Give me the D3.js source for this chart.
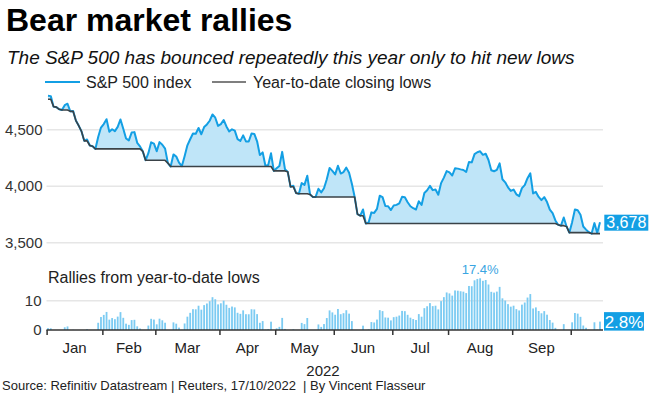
<!DOCTYPE html>
<html>
<head>
<meta charset="utf-8">
<script src="https://cdn.jsdelivr.net/npm/d3@7"></script>
<style>
  body { margin: 0; background: #fff; }
  svg { display: block; font-family: "Liberation Sans", Arial, sans-serif; }
</style>
</head>
<body>
<svg width="653" height="396"></svg>
<script>
// S&P 500 daily closes, 2022, by month
const jan = [4796.56, 4793.54, 4700.58, 4696.05, 4677.03, 4670.29, 4713.07, 4726.35, 4659.03, 4662.85,
  4577.11, 4532.76, 4482.73, 4397.94, 4410.13, 4356.45, 4349.93, 4326.51, 4431.85, 4515.55];
const feb = [4546.54, 4589.38, 4477.44, 4500.53, 4483.87, 4521.54, 4587.18, 4504.08, 4418.64, 4401.67,
  4471.07, 4475.01, 4380.26, 4348.87, 4304.76, 4225.50, 4288.70, 4384.65, 4373.94];
const mar = [4306.26, 4386.54, 4363.49, 4328.87, 4201.09, 4170.70, 4277.88, 4259.52, 4204.31, 4173.11,
  4262.45, 4357.86, 4411.67, 4463.12, 4461.18, 4511.61, 4456.24, 4520.16, 4543.06, 4575.52,
  4631.60, 4602.45, 4530.41];
const apr = [4545.86, 4582.64, 4525.12, 4481.15, 4500.21, 4488.28, 4412.53, 4397.45, 4446.59, 4392.59,
  4391.69, 4462.21, 4459.45, 4393.66, 4271.78, 4296.12, 4175.20, 4183.96, 4287.50, 4131.93];
const may = [4155.38, 4175.48, 4300.17, 4146.87, 4123.34, 3991.24, 4001.05, 3935.18, 3930.08, 4023.89,
  4008.01, 4088.85, 3923.68, 3900.79, 3901.36, 3973.75, 3941.48, 3978.73, 4057.84, 4158.24, 4132.15];
const jun = [4101.23, 4176.82, 4108.54, 4121.43, 4160.68, 4115.77, 4017.82, 3900.86, 3749.63, 3735.48,
  3789.99, 3666.77, 3674.84, 3764.79, 3759.89, 3795.73, 3911.74, 3900.11, 3821.55, 3818.83, 3785.38];
const jul = [3825.33, 3831.39, 3845.08, 3902.62, 3899.38, 3854.43, 3818.80, 3801.78, 3790.38, 3863.16,
  3830.85, 3936.69, 3959.90, 3998.95, 3961.63, 3966.84, 3921.05, 4023.61, 4072.43, 4130.29];
const aug = [4118.63, 4091.19, 4155.17, 4151.94, 4145.19, 4140.06, 4122.47, 4210.24, 4207.27, 4280.15,
  4297.14, 4305.20, 4274.04, 4283.74, 4228.48, 4137.99, 4128.73, 4140.77, 4199.12, 4057.66,
  4030.61, 3986.16, 3955.00];
const sep = [3966.85, 3924.26, 3908.19, 3979.87, 4006.18, 4067.36, 4110.41, 3932.69, 3946.01, 3901.35,
  3873.33, 3899.89, 3855.93, 3789.93, 3757.99, 3693.23, 3655.04, 3647.29, 3719.04, 3640.47, 3585.62];
const oct = [3678.43, 3790.93, 3783.28, 3744.52, 3639.66, 3612.39, 3588.84, 3577.03, 3669.91, 3583.07,
  3677.95];
const priorLow = 4766.18; // last close of 2021
const monthLabels = ["Jan", "Feb", "Mar", "Apr", "May", "Jun", "Jul", "Aug", "Sep", ""];
const topTicks = [3500, 4000, 4500];
const bottomTicks = [0, 10];

const months = [jan, feb, mar, apr, may, jun, jul, aug, sep, oct];
const closes = months.flat();
const monthStart = [];
let acc = 0;
months.forEach(m => { monthStart.push(acc); acc += m.length; });

let low = priorLow;
const rows = closes.map((c, i) => {
  low = Math.min(low, c);
  return { i, close: c, low, rally: (c / low - 1) * 100 };
});

const blue = "#139fe4";
const svg = d3.select("svg");

const x = d3.scaleLinear().domain([0, closes.length - 1]).range([48, 600]);
const y = d3.scaleLinear().domain([3500, 4500]).range([242.3, 129.3]);
const yb = d3.scaleLinear().domain([0, 10]).range([330, 300.3]);
const left = 46.5, right = 603;

// titles
svg.append("text").attr("x", 6).attr("y", 31).attr("font-size", 32).attr("font-weight", "bold")
  .attr("fill", "#000").text("Bear market rallies");
svg.append("text").attr("x", 7).attr("y", 64).attr("font-size", 19).attr("font-style", "italic")
  .attr("fill", "#111").text("The S&P 500 has bounced repeatedly this year only to hit new lows");

// legend
svg.append("line").attr("x1", 45).attr("x2", 80).attr("y1", 82).attr("y2", 82)
  .attr("stroke", blue).attr("stroke-width", 2);
svg.append("text").attr("x", 86).attr("y", 88).attr("font-size", 16).attr("fill", "#222").text("S&P 500 index");
svg.append("line").attr("x1", 212).attr("x2", 246).attr("y1", 82).attr("y2", 82)
  .attr("stroke", "#555").attr("stroke-width", 1.5);
svg.append("text").attr("x", 253).attr("y", 88).attr("font-size", 16).attr("fill", "#222").text("Year-to-date closing lows");

// top grid + y labels
const gTop = svg.append("g").attr("transform", `translate(${left},0)`)
  .call(d3.axisLeft(y).tickValues(topTicks).tickSize(-(right - left)).tickPadding(4).tickFormat(d3.format(",")));
gTop.select(".domain").remove();
gTop.selectAll(".tick line").attr("stroke", "#e6e6e6").attr("stroke-width", 1.5);
gTop.selectAll(".tick text").attr("font-size", 15).attr("fill", "#333").attr("font-family", "Liberation Sans, Arial, sans-serif");

// fill between index and lows
svg.append("path").datum(rows)
  .attr("d", d3.area().x(d => x(d.i)).y0(d => y(d.low)).y1(d => y(d.close)))
  .attr("fill", "#bfe5f8");
svg.append("path").datum(rows)
  .attr("d", d3.line().x(d => x(d.i)).y(d => y(d.close)))
  .attr("fill", "none").attr("stroke", blue).attr("stroke-width", 2).attr("stroke-linejoin", "round");
svg.append("path").datum(rows)
  .attr("d", d3.line().x(d => x(d.i)).y(d => y(d.low)))
  .attr("fill", "none").attr("stroke", "#3a4247").attr("stroke-width", 1.6).attr("stroke-linejoin", "round");

// last value label
const last = rows[rows.length - 1];
svg.append("rect").attr("x", 604.3).attr("y", y(last.close) - 7.5).attr("width", 44).attr("height", 16).attr("fill", blue);
svg.append("text").attr("x", 626.3).attr("y", y(last.close) + 6).attr("text-anchor", "middle")
  .attr("font-size", 16).attr("fill", "#fff").text(d3.format(",.0f")(last.close));

// bottom panel
svg.append("text").attr("x", 48).attr("y", 283).attr("font-size", 16).attr("fill", "#222").text("Rallies from year-to-date lows");

const gBot = svg.append("g").attr("transform", `translate(${left},0)`)
  .call(d3.axisLeft(yb).tickValues(bottomTicks).tickSize(-(right - left)).tickPadding(5));
gBot.select(".domain").remove();
gBot.selectAll(".tick line").attr("stroke", d => d === 0 ? "none" : "#e6e6e6").attr("stroke-width", 1.5);
gBot.selectAll(".tick text").attr("font-size", 15).attr("fill", "#333").attr("font-family", "Liberation Sans, Arial, sans-serif");

svg.append("g").selectAll("rect").data(rows.filter(d => d.rally > 0.05)).join("rect")
  .attr("x", d => x(d.i) - 0.9).attr("width", 1.8)
  .attr("y", d => yb(d.rally)).attr("height", d => yb(0) - yb(d.rally))
  .attr("fill", "#7ccbf2");

// x axis
const gx = svg.append("g").attr("transform", `translate(0,${yb(0)})`)
  .call(d3.axisBottom(x).tickValues(monthStart.map(s => s - 0.5)).tickSize(5).tickFormat(""));
gx.select(".domain").remove();
gx.selectAll(".tick line").attr("stroke", "#333").attr("stroke-width", 1.5);
svg.append("line").attr("x1", left).attr("x2", right).attr("y1", yb(0)).attr("y2", yb(0))
  .attr("stroke", "#333").attr("stroke-width", 1.5);

const bounds = monthStart.concat([closes.length]);
svg.append("g").selectAll("text").data(monthLabels).join("text")
  .attr("x", (d, k) => (x(bounds[k] - 0.5) + x(bounds[k + 1] - 0.5)) / 2)
  .attr("y", 353).attr("text-anchor", "middle").attr("font-size", 15).attr("fill", "#222")
  .text(d => d);
svg.append("text").attr("x", 323).attr("y", 376).attr("text-anchor", "middle")
  .attr("font-size", 15).attr("fill", "#222").text("2022");

// max rally label
const peak = rows.reduce((a, b) => (b.rally > a.rally ? b : a));
svg.append("text").attr("x", x(peak.i)).attr("y", yb(peak.rally) - 4).attr("text-anchor", "middle")
  .attr("font-size", 13).attr("fill", "#3aa5e2").text(d3.format(".1f")(peak.rally) + "%");

// last rally label
svg.append("rect").attr("x", 604).attr("y", yb(last.rally) - 9.5).attr("width", 40).attr("height", 18.5).attr("fill", blue);
svg.append("text").attr("x", 624).attr("y", yb(last.rally) + 6).attr("text-anchor", "middle")
  .attr("font-size", 17).attr("fill", "#fff").text(d3.format(".1f")(last.rally) + "%");

// source
svg.append("text").attr("x", 2).attr("y", 390).attr("font-size", 13).attr("fill", "#222")
  .style("white-space", "pre")
  .text("Source: Refinitiv Datastream | Reuters, 17/10/2022  | By Vincent Flasseur");
</script>
</body>
</html>
